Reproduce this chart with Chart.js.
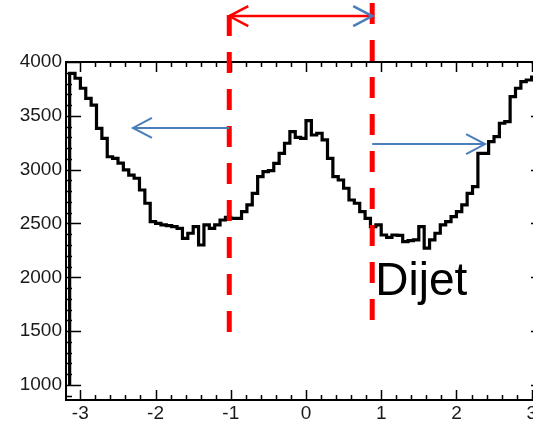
<!DOCTYPE html>
<html>
<head>
<meta charset="utf-8">
<script src="https://cdn.jsdelivr.net/npm/chart.js@4.4.1/dist/chart.umd.min.js"></script>
<style>
  html, body { margin: 0; padding: 0; background: #fff; overflow: hidden; }
  #wrap { width: 560px; height: 421px; }
</style>
</head>
<body>
<div id="wrap"><canvas id="chart" width="560" height="421"></canvas></div>
<script>
// Histogram contents per bin, bins span -pi .. pi
const binCounts = [
    3895, 3849, 3756, 3663, 3600, 3384, 3291, 3120, 3105, 3060,
    2997, 2950, 2920, 2811, 2688, 2517, 2500, 2486, 2480, 2470,
    2455, 2362, 2409, 2470, 2300, 2486, 2455, 2486, 2532, 2557,
    2548, 2548, 2610, 2672, 2780, 2935, 2981, 2990, 3059, 3152,
    3245, 3353, 3300, 3291, 3455, 3322, 3338, 3276, 3105, 2935,
    2904, 2827, 2718, 2688, 2610, 2548, 2470, 2486, 2393, 2370,
    2393, 2390, 2331, 2340, 2347, 2470, 2270, 2347, 2409, 2486,
    2517, 2563, 2610, 2672, 2780, 2842, 3152, 3152, 3260, 3307,
    3431, 3446, 3678, 3756, 3817, 3833, 3860, 3880
];
const histLow = -Math.PI;
const histHigh = Math.PI;
const histBase = 1000;

const xTickValues = [-3, -2, -1, 0, 1, 2, 3];
const yTickValues = [1000, 1500, 2000, 2500, 3000, 3500, 4000];

// Cut lines (red dashed) and the arrows drawn on the slide
const cutLow = -1.02;
const cutHigh = 0.88;

const labelFont = { family: "'Liberation Sans', Arial, sans-serif", size: 19 };
const blue = '#4A7EBB';
const red = '#FF0000';

// build the step outline of the histogram
const binWidth = (histHigh - histLow) / binCounts.length;
const outline = [{ x: histLow, y: histBase }];
binCounts.forEach((c, i) => {
    outline.push({ x: histLow + i * binWidth, y: c });
    outline.push({ x: histLow + (i + 1) * binWidth, y: c });
});

// ROOT style frame with inward ticks on all four sides
const rootFrame = {
    id: 'rootFrame',
    afterDraw(chart) {
        const { ctx, chartArea: a, scales: { x, y } } = chart;
        ctx.save();
        ctx.strokeStyle = '#000';
        ctx.lineWidth = 1.5;
        ctx.beginPath();
        for (let k = -16; k <= 16; k++) {
            const v = k * 0.2;
            if (v < x.min || v > x.max) continue;
            const px = Math.round(x.getPixelForValue(v)) + 0.5;
            const len = (k % 5 === 0) ? 10 : 5;
            ctx.moveTo(px, a.bottom); ctx.lineTo(px, a.bottom - len);
            ctx.moveTo(px, a.top); ctx.lineTo(px, a.top + len);
        }
        for (let v = 900; v <= 4000; v += 100) {
            if (v < y.min || v > y.max) continue;
            const py = Math.round(y.getPixelForValue(v)) + 0.5;
            const len = (v % 500 === 0) ? 15 : 6;
            ctx.moveTo(a.left, py); ctx.lineTo(a.left + len, py);
            ctx.moveTo(a.right, py); ctx.lineTo(a.right - len, py);
        }
        ctx.stroke();
        ctx.lineWidth = 2;
        ctx.strokeRect(a.left, a.top, a.right - a.left, a.bottom - a.top);
        ctx.restore();
    }
};

function arrowHead(ctx, tipX, tipY, dir, color) {
    ctx.strokeStyle = color;
    ctx.beginPath();
    ctx.moveTo(tipX - dir * 19, tipY - 10);
    ctx.lineTo(tipX, tipY);
    ctx.lineTo(tipX - dir * 19, tipY + 10);
    ctx.stroke();
}

const annotations = {
    id: 'annotations',
    afterDraw(chart) {
        const { ctx, scales: { x, y } } = chart;
        ctx.save();

        // dashed cut lines
        ctx.strokeStyle = red;
        ctx.lineWidth = 5;
        ctx.setLineDash([21, 16]);
        ctx.beginPath();
        ctx.moveTo(x.getPixelForValue(cutLow), y.getPixelForValue(4437));
        ctx.lineTo(x.getPixelForValue(cutLow), y.getPixelForValue(1420));
        ctx.moveTo(x.getPixelForValue(cutHigh), y.getPixelForValue(4548));
        ctx.lineTo(x.getPixelForValue(cutHigh), y.getPixelForValue(1585));
        ctx.stroke();
        ctx.setLineDash([]);

        // double arrow between the cuts
        const ya = y.getPixelForValue(4427);
        const xl = x.getPixelForValue(cutLow);
        const xr = x.getPixelForValue(cutHigh);
        ctx.lineWidth = 2.5;
        ctx.strokeStyle = red;
        ctx.beginPath();
        ctx.moveTo(xl, ya); ctx.lineTo(xr, ya);
        ctx.stroke();
        arrowHead(ctx, xl, ya, -1, red);
        arrowHead(ctx, xr, ya, 1, blue);

        // blue arrows pointing outwards
        ctx.lineWidth = 2;
        const yb1 = y.getPixelForValue(3387);
        const tip1 = x.getPixelForValue(-2.30);
        ctx.strokeStyle = blue;
        ctx.beginPath();
        ctx.moveTo(xl, yb1); ctx.lineTo(tip1, yb1);
        ctx.stroke();
        arrowHead(ctx, tip1, yb1, -1, blue);

        const yb2 = y.getPixelForValue(3238);
        const tip2 = x.getPixelForValue(2.38);
        ctx.beginPath();
        ctx.moveTo(xr, yb2); ctx.lineTo(tip2, yb2);
        ctx.stroke();
        arrowHead(ctx, tip2, yb2, 1, blue);

        // label
        ctx.fillStyle = '#000';
        ctx.font = "46px 'Liberation Sans', Arial, sans-serif";
        ctx.textAlign = 'left';
        ctx.textBaseline = 'alphabetic';
        ctx.fillText('Dijet', x.getPixelForValue(0.92), y.getPixelForValue(1835));
        ctx.restore();
    }
};

new Chart(document.getElementById('chart'), {
    type: 'line',
    data: {
        datasets: [{
            data: outline,
            borderColor: '#000',
            borderWidth: 3.2,
            borderJoinStyle: 'miter',
            pointRadius: 0,
            fill: false,
            tension: 0
        }]
    },
    options: {
        responsive: false,
        animation: false,
        layout: { padding: { top: 62, right: 14, left: 0, bottom: 0 } },
        plugins: { legend: { display: false }, tooltip: { enabled: false } },
        scales: {
            x: {
                type: 'linear',
                min: -3.19,
                max: 3.19,
                afterBuildTicks: s => { s.ticks = xTickValues.map(v => ({ value: v })); },
                afterFit: s => { s.height = 21; },
                grid: { display: false, drawTicks: false },
                border: { display: false },
                ticks: {
                    font: labelFont,
                    color: '#1a1a1a',
                    padding: 2,
                    maxRotation: 0,
                    autoSkip: false,
                    callback: v => String(v)
                }
            },
            y: {
                min: 860,
                max: 4000,
                afterBuildTicks: s => { s.ticks = yTickValues.map(v => ({ value: v })); },
                afterFit: s => { s.width = 66; },
                grid: { display: false, drawTicks: false },
                border: { display: false },
                ticks: {
                    font: labelFont,
                    color: '#1a1a1a',
                    padding: 4,
                    autoSkip: false,
                    callback: v => String(v)
                }
            }
        }
    },
    plugins: [rootFrame, annotations]
});
</script>
</body>
</html>
